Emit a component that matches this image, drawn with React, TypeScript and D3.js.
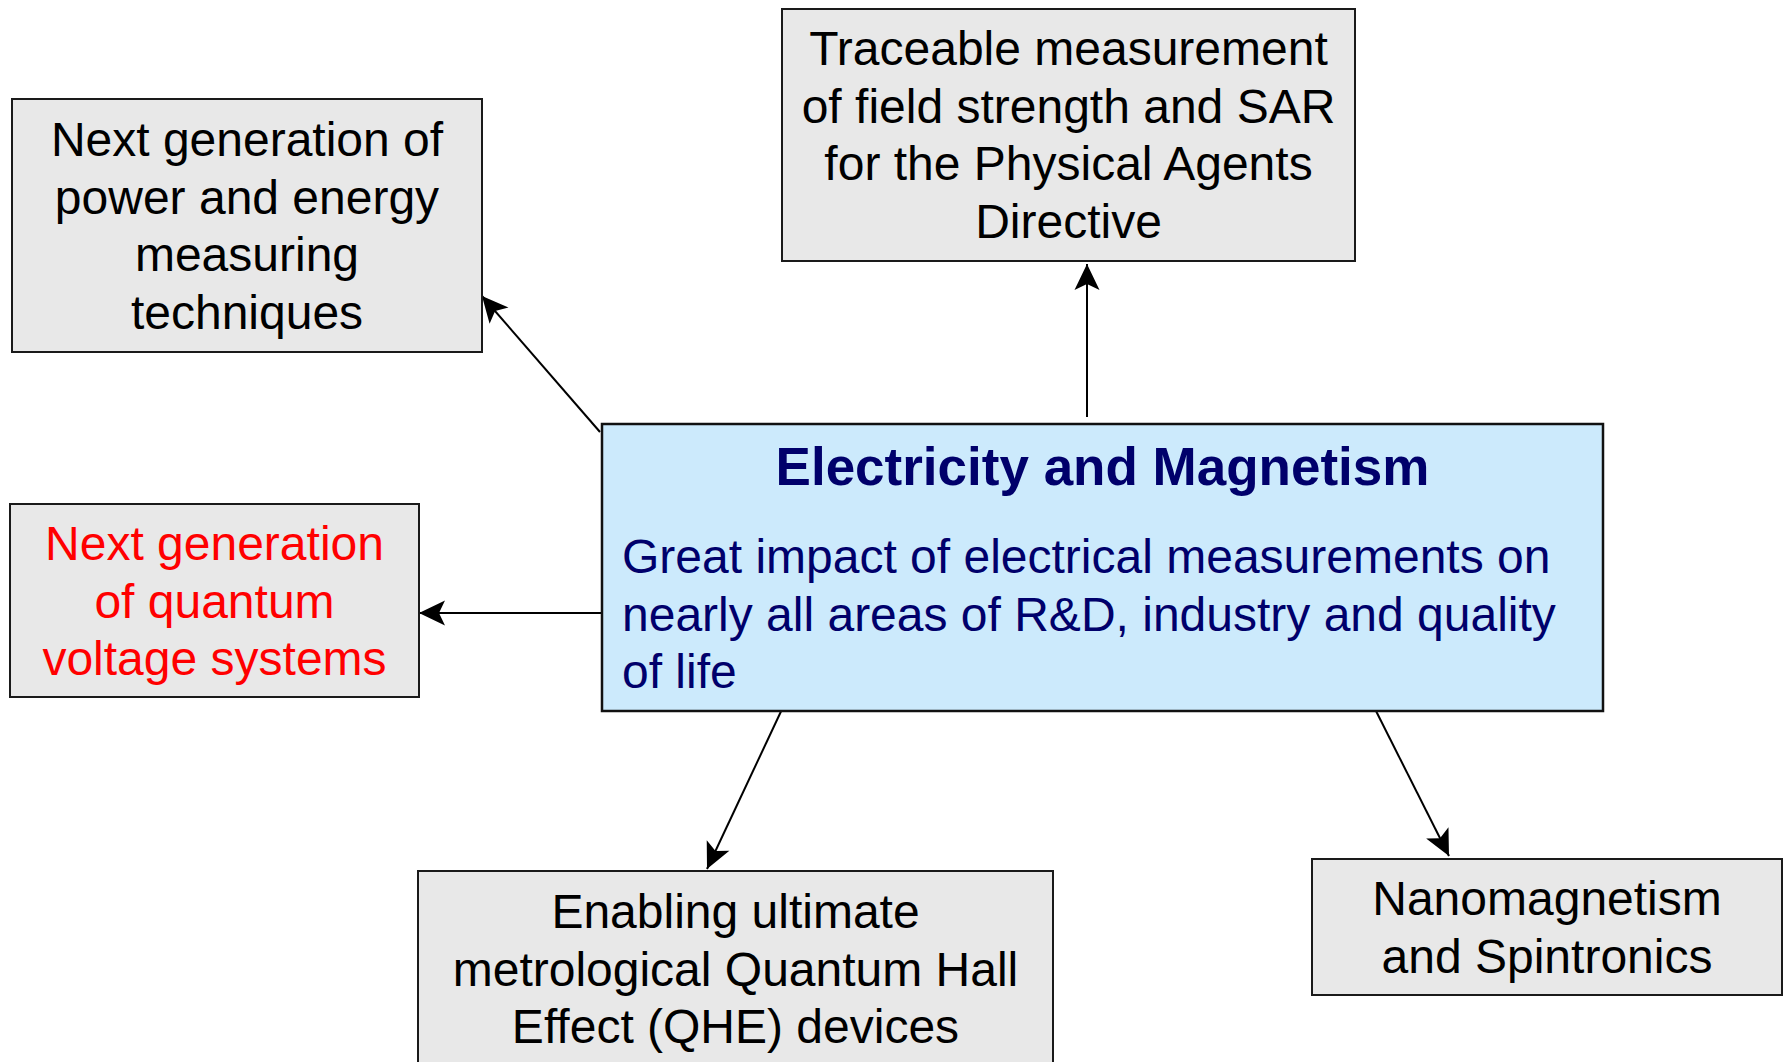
import { useEffect, useRef } from 'react';
import * as d3 from 'd3';

// text content of the diagram
const centerTitle = 'Electricity and Magnetism';
const centerLines = [
  'Great impact of electrical measurements on',
  'nearly all areas of R&D, industry and quality',
  'of life',
];
const topicIds = ['power', 'sar', 'voltage', 'qhe', 'spin'];
const topicLines = [
  ['Next generation of', 'power and energy', 'measuring', 'techniques'],
  ['Traceable measurement', 'of field strength and SAR', 'for the Physical Agents', 'Directive'],
  ['Next generation', 'of quantum', 'voltage systems'],
  ['Enabling ultimate', 'metrological Quantum Hall', 'Effect (QHE) devices'],
  ['Nanomagnetism', 'and Spintronics'],
];
const topicHighlight = [false, false, true, false, false];

const W = 1787;
const H = 1062;

// layout (pixel boxes) kept apart from the content
const layout = {
  center: { x0: 602, y0: 424, x1: 1603, y1: 711 },
  power: { x0: 12, y0: 99, x1: 482, y1: 352, base: 156 },
  sar: { x0: 782, y0: 9, x1: 1355, y1: 261, base: 65 },
  voltage: { x0: 10, y0: 504, x1: 419, y1: 697, base: 560 },
  qhe: { x0: 418, y0: 871, x1: 1053, y1: 1075, base: 928 },
  spin: { x0: 1312, y0: 859, x1: 1782, y1: 995, base: 915 },
};
const arrows = {
  power: [[600, 432], [482, 296]],
  sar: [[1087, 417], [1087, 264]],
  voltage: [[602, 613], [419, 613]],
  qhe: [[784, 705], [707, 869]],
  spin: [[1374, 707], [1449, 856]],
};

const Diagram = () => {
  const ref = useRef(null);

  useEffect(() => {
    const svg = d3.select(ref.current);
    svg.selectAll('*').remove();
    const font = '"Liberation Sans", Arial, Helvetica, sans-serif';
    const lineH = 57.5;

    svg
      .append('defs')
      .append('marker')
      .attr('id', 'head')
      .attr('viewBox', '-28 -14 30 28')
      .attr('refX', 0)
      .attr('refY', 0)
      .attr('markerWidth', 30)
      .attr('markerHeight', 28)
      .attr('markerUnits', 'userSpaceOnUse')
      .attr('orient', 'auto')
      .append('path')
      .attr('d', 'M0,0 L-26,-12.5 L-20,0 L-26,12.5 Z')
      .attr('fill', '#000');

    const line = d3.line();

    // arrows
    topicIds.forEach((id) => {
      svg
        .append('path')
        .attr('d', line(arrows[id]))
        .attr('stroke', '#000')
        .attr('stroke-width', 2)
        .attr('fill', 'none')
        .attr('marker-end', 'url(#head)');
    });

    // topic boxes
    topicIds.forEach((id, i) => {
      const b = layout[id];
      const g = svg.append('g');
      g.append('rect')
        .attr('x', b.x0)
        .attr('y', b.y0)
        .attr('width', b.x1 - b.x0)
        .attr('height', b.y1 - b.y0)
        .attr('fill', '#e8e8e8')
        .attr('stroke', '#1a1a1a')
        .attr('stroke-width', 2);
      g.selectAll('text')
        .data(topicLines[i])
        .join('text')
        .attr('x', (b.x0 + b.x1) / 2)
        .attr('y', (_, j) => b.base + j * lineH)
        .attr('text-anchor', 'middle')
        .attr('font-family', font)
        .attr('font-size', 48)
        .attr('fill', topicHighlight[i] ? '#ff0000' : '#000')
        .text((d) => d);
    });

    // center box
    const c = layout.center;
    svg
      .append('rect')
      .attr('x', c.x0)
      .attr('y', c.y0)
      .attr('width', c.x1 - c.x0)
      .attr('height', c.y1 - c.y0)
      .attr('fill', '#cceafc')
      .attr('stroke', '#111')
      .attr('stroke-width', 2.5);

    svg
      .append('text')
      .attr('x', (c.x0 + c.x1) / 2)
      .attr('y', 485)
      .attr('text-anchor', 'middle')
      .attr('font-family', font)
      .attr('font-weight', 'bold')
      .attr('font-size', 53)
      .attr('fill', '#00006b')
      .text(centerTitle);

    svg
      .append('g')
      .selectAll('text')
      .data(centerLines)
      .join('text')
      .attr('x', 622)
      .attr('y', (_, j) => 573 + j * lineH)
      .attr('font-family', font)
      .attr('font-size', 48)
      .attr('fill', '#00006b')
      .text((d) => d);
  }, [ref]);

  return (
    <svg
      ref={ref}
      width={W}
      height={H}
      style={{ position: 'absolute', left: 0, top: 0, background: '#fff' }}
    />
  );
};

export default function App() {
  return (
    <div>
      <Diagram />
    </div>
  );
}
